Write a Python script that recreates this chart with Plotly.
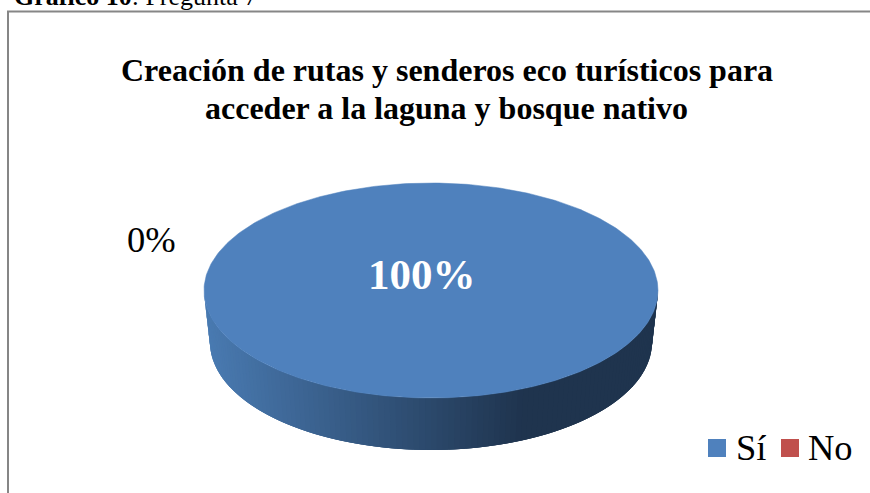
import numpy as np
import plotly.graph_objects as go

# --- data ---
categories = ["Sí", "No"]
values = [100, 0]
colors = ["#4F81BD", "#C0504D"]
value_labels = ["100%", "0%"]
title_lines = ["Creación de rutas y senderos eco turísticos para",
               "acceder a la laguna y bosque nativo"]

W, H = 870, 493
CX, CY, RX, RY = 431, 290.5, 227, 107.5      # top ellipse
BCX, BCY, BRX, BRY = 431, 342.5, 221, 107.5  # bottom ellipse
FONT = "Liberation Serif"

fig = go.Figure()

def hex2rgb(h):
    return np.array([int(h[i:i + 2], 16) for i in (1, 3, 5)], float)

LIGHT, DARK = hex2rgb("#4A7BB2"), hex2rgb("#1F344E")

# Side wall: painted left to right, each strip overlapping the next to avoid seams
total = sum(values)
shares = [v / total for v in values]
n = 120
ts = np.linspace(np.pi, 0, n + 1)
for i in range(n):
    a, b = ts[i], ts[min(i + 3, n)]
    tt = np.linspace(a, b, 8)
    xs = np.r_[CX + RX * np.cos(tt), BCX + BRX * np.cos(tt[::-1])]
    ys = np.r_[CY + RY * np.sin(tt), BCY + BRY * np.sin(tt[::-1])]
    xm = CX + RX * np.cos((ts[i] + ts[i + 1]) / 2)
    f = np.clip((xm - 204) / (525 - 204), 0, 1)
    c = LIGHT + (DARK - LIGHT) * f
    col = "rgb(%d,%d,%d)" % tuple(c)
    fig.add_trace(go.Scatter(x=np.r_[xs, xs[0]], y=np.r_[ys, ys[0]], mode="lines",
                             fill="toself", fillcolor=col,
                             line=dict(width=0),
                             hoverinfo="skip", showlegend=False))

# Top face: one slice per value
start = 0.0
for name, share, col in zip(categories, shares, colors):
    if share > 0:
        th = np.linspace(start, start + 2 * np.pi * share, 361)
        xs, ys = CX + RX * np.cos(th), CY + RY * np.sin(th)
        fig.add_trace(go.Scatter(x=xs, y=ys, mode="lines", fill="toself",
                                 fillcolor=col, line=dict(color=col, width=0.5),
                                 name=name, hoverinfo="name", showlegend=False))
    start += 2 * np.pi * share

annotations = [
    dict(x=446.5, y=70, text="<b>%s</b>" % title_lines[0], font=dict(size=32, color="#000000", family=FONT)),
    dict(x=446.5, y=108, text="<b>%s</b>" % title_lines[1], font=dict(size=32, color="#000000", family=FONT)),
    dict(x=421.5, y=274.5, text="<b>%s</b>" % value_labels[0], font=dict(size=43, color="#FFFFFF", family=FONT)),
    dict(x=151.5, y=239, text=value_labels[1], font=dict(size=36.5, color="#000000", family=FONT)),
    dict(x=750.5, y=447, text=categories[0], font=dict(size=36.5, color="#000000", family=FONT)),
    dict(x=830, y=447, text=categories[1], font=dict(size=36.5, color="#000000", family=FONT)),
    dict(x=12, y=0.5, yshift=4, text="<b>Gráfico 10</b>: Pregunta 7", xanchor="left",
         font=dict(size=26, color="#000000", family=FONT)),
]
for a in annotations:
    a.update(xref="x", yref="y", showarrow=False)
    a.setdefault("xanchor", "center")
    a["yanchor"] = "middle"

shapes = [
    dict(type="rect", xref="x", yref="y", x0=8, y0=11.5, x1=900, y1=520,
         line=dict(color="#868686", width=2), fillcolor="rgba(0,0,0,0)", layer="below"),
    dict(type="rect", xref="x", yref="y", x0=708, y0=439, x1=726, y1=457,
         line=dict(width=0), fillcolor=colors[0]),
    dict(type="rect", xref="x", yref="y", x0=781, y0=439, x1=799, y1=457,
         line=dict(width=0), fillcolor=colors[1]),
]

fig.update_layout(
    width=W, height=H, margin=dict(l=0, r=0, t=0, b=0),
    paper_bgcolor="#FFFFFF", plot_bgcolor="#FFFFFF",
    showlegend=False, annotations=annotations, shapes=shapes,
    xaxis=dict(range=[0, W], visible=False, fixedrange=True),
    yaxis=dict(range=[H, 0], visible=False, fixedrange=True),
)
fig.write_html("out.html", config=dict(displayModeBar=False),
               post_script="document.body.style.margin='0';document.body.style.overflow='hidden';")
